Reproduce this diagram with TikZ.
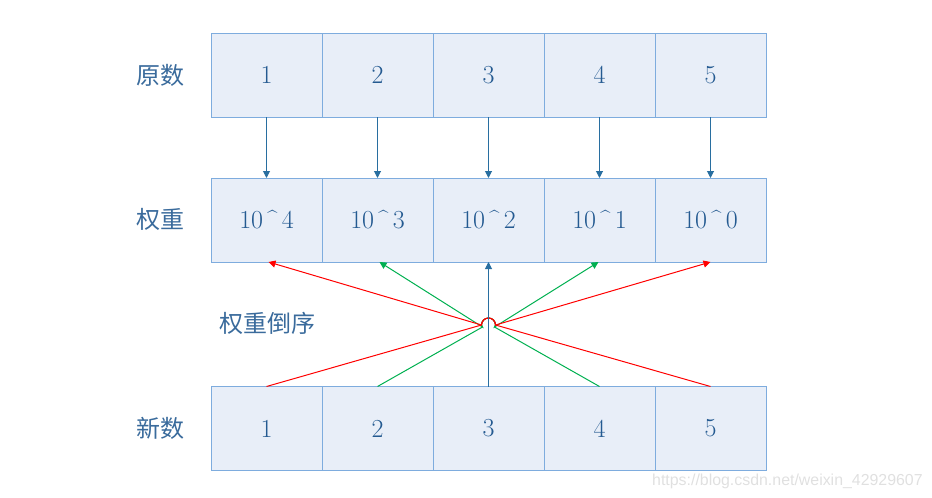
\documentclass[tikz,border=0pt]{standalone}
\usepackage{fontspec}
\newfontfamily\cjk{Noto Sans CJK SC}
\newfontfamily\wmfont{Liberation Sans}
\usetikzlibrary{arrows.meta}
\definecolor{cellfill}{RGB}{232,238,248}
\definecolor{cellborder}{RGB}{126,172,222}
\definecolor{txtblue}{RGB}{36,90,145}
\definecolor{arrblue}{RGB}{40,110,160}
\definecolor{lred}{RGB}{255,0,0}
\definecolor{lgreen}{RGB}{0,176,80}
\newcommand{\smallhat}{{\fontsize{18}{18}\selectfont\^{}}}
\tikzset{
  cell/.style={draw=cellborder, fill=cellfill, line width=0.8pt, minimum width=111pt, minimum height=84pt, inner sep=0pt, outer sep=0pt, text=txtblue, font=\fontsize{26}{30}\selectfont},
  lbl/.style={text=txtblue!90, font=\cjk\fontsize{24}{28}\selectfont, inner sep=0pt},
  tip/.style={-{Triangle[length=7pt,width=7pt]}},
  arr/.style={draw=arrblue, line width=1pt, tip},
  rline/.style={draw=lred, line width=1pt, tip},
  gline/.style={draw=lgreen, line width=1pt, tip}
}
\begin{document}
\begin{tikzpicture}[x=1pt,y=-1pt]
\useasboundingbox (0,0) rectangle (932,498);
% top row
\foreach \i/\t in {1/1,2/2,3/3,4/4,5/5}{
  \node[cell] (a\i) at ({211+111*(\i-1)+55.5},75) {\t};
}
% middle row
\foreach \i/\t in {1/4,2/3,3/2,4/1,5/0}{
  \node[cell] (m\i) at ({211+111*(\i-1)+55.5},220) {10\,\raisebox{5pt}{\smallhat}\,\t};
}
% bottom row
\foreach \i/\t in {1/1,2/2,3/3,4/4,5/5}{
  \node[cell] (b\i) at ({211+111*(\i-1)+55.5},428.5) {\t};
}
% labels
\node[lbl] (l1) at (160,75) {原数};
\node[lbl] (l2) at (160,219) {权重};
\node[lbl] (l3) at (160,428) {新数};
\node[lbl] (l4) at (267,323) {权重倒序};
% top arrows
\foreach \i in {1,...,5}{
  \draw[arr] (a\i.south) -- (m\i.north);
}
% crossing
\coordinate (L) at (481.5,325);
\coordinate (R) at (495.5,325);
\coordinate (Lg) at (482.5,327);
\coordinate (Rg) at (494.5,327);
\draw[gline] (b2.north) -- (Lg) -- (L) arc[start angle=180,end angle=360,radius=7] -- (Rg) -- ([xshift=-1pt]m4.south);
\draw[gline] (b4.north) -- (Rg) -- (R) arc[start angle=0,end angle=-180,radius=7] -- (Lg) -- ([xshift=2pt]m2.south);
\draw[rline] (b1.north) -- (L) arc[start angle=180,end angle=360,radius=7] -- (m5.south);
\draw[rline] (b5.north) -- (R) arc[start angle=0,end angle=-180,radius=7] -- ([xshift=2pt]m1.south);
\draw[arr] (b3.north) -- (m3.south);
% watermark
\node[anchor=west, text=black!12, font=\wmfont\fontsize{15.9}{18}\selectfont, inner sep=0pt] (wm) at (652,481) {https://blog.csdn.net/weixin\_42929607};
\end{tikzpicture}
\end{document}
